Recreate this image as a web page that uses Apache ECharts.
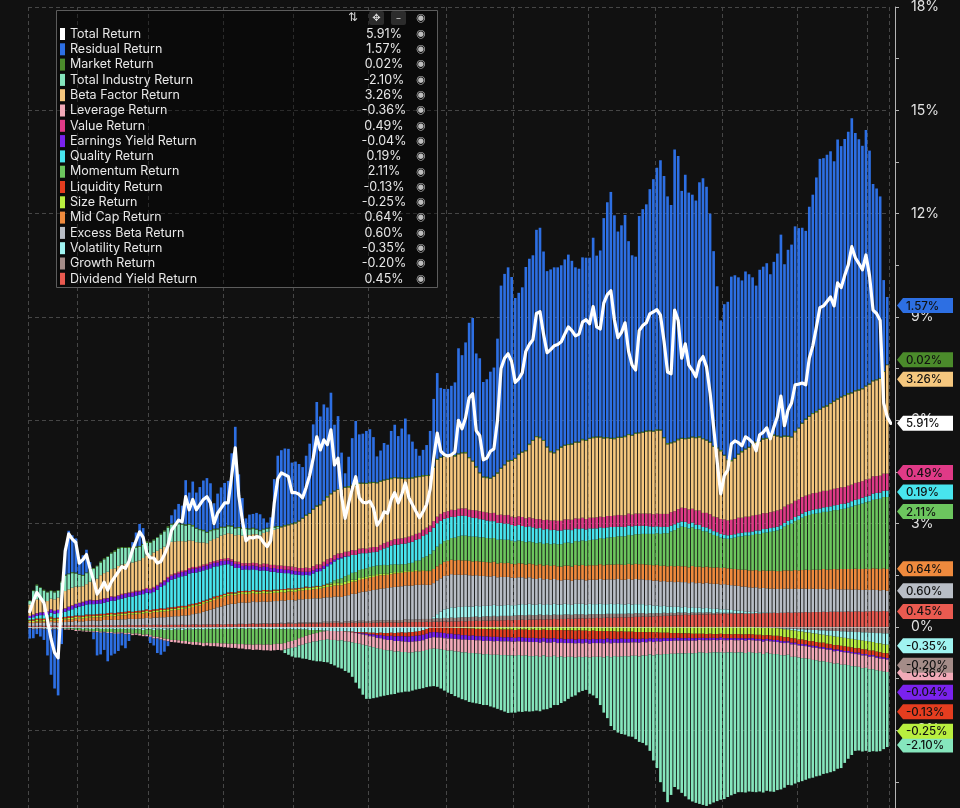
<!DOCTYPE html>
<html>
<head>
<meta charset="utf-8">
<title>Return Attribution</title>
<script src="https://cdn.jsdelivr.net/npm/echarts@6.0.0/dist/echarts.min.js"></script>
<style>
  html, body { margin: 0; padding: 0; background: #111111; }
  #wrap { width: 960px; height: 808px; overflow: hidden; position: relative; }
  #chart { width: 960px; height: 860px; }
</style>
</head>
<body>
<div id="wrap"><div id="chart"></div></div>
<script>
// trading days in each month shown (first and last month are partial)
var tradingDaysPerMonth = [14, 20, 21, 20, 21, 22, 19, 21, 19, 19, 22, 20, 6];

// daily cumulative returns, in %
var totalReturn = [
.44,.75,1.00,.85,.70,.20,-.35,-.75,-.90,.80,
2.20,2.70,2.55,2.45,1.85,1.95,2.10,1.70,1.35,.95,
1.10,1.30,1.07,1.30,1.45,1.60,1.75,1.70,1.90,2.24,
2.50,2.76,2.60,2.15,2.00,2.00,1.85,1.90,2.10,2.35,
2.80,2.95,3.10,3.05,3.78,3.40,3.70,3.40,3.55,3.70,
3.78,3.60,3.00,3.30,3.45,3.60,3.60,4.40,5.20,3.80,
3.10,2.50,2.60,2.58,2.62,2.60,2.45,2.33,2.50,3.60,
4.30,4.47,4.42,4.36,3.90,3.90,3.85,3.75,4.05,4.40,
4.90,5.52,5.14,5.43,5.29,5.72,4.70,4.90,3.80,3.15,
3.60,4.00,4.36,3.75,3.62,3.60,3.65,3.45,2.95,3.10,
3.34,3.30,3.69,3.90,3.60,3.85,4.18,3.75,3.55,3.35,
3.17,3.35,3.55,4.00,4.90,5.63,5.10,5.00,4.96,5.00,
5.08,6.00,5.75,6.07,6.65,6.77,5.70,5.55,4.85,4.90,
5.10,5.17,6.00,7.50,7.80,7.93,7.70,7.10,7.20,7.38,
8.00,8.20,8.34,9.10,9.15,8.50,7.96,8.05,8.16,8.20,
8.28,8.50,8.71,8.60,8.45,8.50,8.85,8.92,8.80,9.30,
8.71,8.65,9.40,9.65,9.76,8.92,8.40,8.55,8.83,8.00,
7.60,7.46,8.60,8.75,8.83,9.09,9.15,9.21,9.05,8.30,
7.40,7.35,9.20,8.90,7.80,8.22,7.60,7.45,7.26,7.70,
7.85,7.55,6.80,5.80,4.80,3.86,4.39,4.55,5.31,5.40,
5.35,5.26,5.52,5.45,5.35,5.11,5.58,5.65,5.78,5.46,
5.80,6.10,6.70,5.84,6.30,6.50,7.03,7.05,7.08,7.03,
7.80,8.16,8.70,9.27,9.32,9.45,9.58,9.32,9.99,9.85,
10.20,10.51,11.04,10.72,10.55,10.37,10.80,10.20,9.20,9.10,
8.90,6.50,6.10,5.91];

var residualReturn = [
-.30,-.26,-.15,-.23,-.31,-.76,-1.31,-1.72,-1.91,-.45,
.76,1.24,1.07,.99,.44,.57,.66,.20,-.20,-.68,
-.63,-.51,-.82,-.65,-.58,-.50,-.35,-.40,-.20,.14,
.40,.64,.46,-.01,-.18,-.20,-.42,-.44,-.32,-.14,
.24,.39,.56,.52,1.28,.91,1.26,1.02,1.22,1.43,
1.56,1.36,.74,1.01,1.14,1.27,1.29,2.10,2.92,1.53,
.85,.28,.40,.40,.46,.46,.30,.15,.29,1.37,
2.04,2.21,2.22,2.19,1.76,1.76,1.64,1.47,1.71,2.01,
2.45,3.00,2.55,2.78,2.57,2.92,1.91,2.12,1.04,.39,
.85,1.35,1.86,1.40,1.42,1.51,1.53,1.30,.75,.87,
1.06,.99,1.36,1.52,1.20,1.42,1.73,1.26,1.03,.80,
.59,.73,.87,1.27,1.96,2.49,2.00,1.93,1.93,1.99,
2.11,3.05,2.82,3.18,3.90,4.14,3.27,3.31,2.74,2.83,
3.08,3.14,3.88,5.29,5.53,5.60,5.31,4.64,4.67,4.77,
5.32,5.37,5.36,5.99,6.07,5.47,5.09,5.27,5.37,5.28,
5.26,5.38,5.50,5.30,5.06,5.02,5.27,5.29,5.23,5.78,
5.25,5.40,6.36,6.82,7.14,6.46,5.96,6.14,6.41,5.60,
5.21,5.11,6.28,6.46,6.57,7.00,7.30,7.59,7.82,7.58,
7.16,6.89,8.47,8.21,7.17,7.65,7.11,7.02,6.87,7.37,
7.55,7.34,6.62,5.65,4.68,3.76,4.37,4.57,5.32,5.30,
5.12,4.95,5.14,5.01,4.83,4.53,4.96,4.98,5.07,4.70,
5.01,5.28,5.86,4.97,5.40,5.57,5.94,5.79,5.66,5.45,
6.07,6.34,6.78,7.26,7.21,7.27,7.31,6.95,7.51,7.27,
7.44,7.59,7.96,7.47,7.26,7.04,7.42,6.76,5.70,5.54,
5.27,2.64,1.96,1.57];

var marketReturn = [
.02,.02,.03,.02,.03,.02,.02,.03,.02,.03,
.03,.02,.03,.03,.02,.03,.02,.03,.03,.02,
.03,.03,.02,.03,.04,.03,.03,.02,.03,.03,
.04,.03,.03,.04,.03,.03,.02,.03,.03,.04,
.03,.04,.03,.03,.04,.03,.04,.03,.03,.04,
.03,.03,.04,.03,.04,.03,.03,.04,.03,.03,
.04,.03,.03,.04,.03,.03,.02,.03,.03,.04,
.03,.03,.04,.03,.03,.04,.03,.03,.04,.03,
.03,.04,.03,.03,.04,.03,.03,.02,.03,.03,
.04,.03,.03,.04,.03,.03,.04,.03,.03,.04,
.03,.03,.04,.03,.03,.04,.03,.03,.04,.03,
.03,.04,.03,.03,.04,.03,.03,.04,.03,.03,
.04,.03,.03,.04,.03,.03,.04,.03,.03,.04,
.03,.03,.04,.03,.03,.04,.03,.03,.04,.03,
.03,.04,.03,.03,.04,.03,.03,.04,.03,.03,
.04,.03,.03,.04,.03,.03,.04,.03,.03,.04,
.03,.03,.04,.03,.03,.04,.03,.03,.04,.03,
.03,.04,.03,.03,.04,.03,.03,.04,.03,.03,
.04,.03,.03,.04,.03,.03,.04,.03,.03,.04,
.03,.03,.04,.03,.03,.04,.03,.03,.04,.03,
.03,.04,.03,.03,.04,.03,.03,.04,.03,.03,
.04,.03,.03,.04,.03,.03,.04,.03,.03,.04,
.03,.03,.04,.03,.03,.04,.03,.03,.04,.03,
.03,.04,.03,.03,.04,.03,.03,.04,.03,.03,
.03,.03,.02,.02];

var totalIndustryReturn = [
.10,.30,.40,.35,.30,.25,.22,.20,.20,.35,
.45,.44,.42,.38,.34,.30,.32,.34,.35,.36,
.37,.40,.43,.45,.48,.50,.48,.46,.44,.42,
.40,.39,.38,.37,.36,.35,.38,.41,.44,.47,
.50,.50,.49,.48,.46,.45,.42,.39,.36,.33,
.30,.28,.26,.24,.22,.20,.20,.20,.20,.20,
.20,.18,.16,.15,.13,.12,.10,.09,.08,.06,
.05,.00,-.10,-.18,-.25,-.30,-.35,-.40,-.45,-.50,
-.55,-.58,-.61,-.64,-.67,-.70,-.74,-.78,-.82,-.86,
-.90,-1.00,-1.15,-1.30,-1.45,-1.55,-1.52,-1.48,-1.43,-1.38,
-1.33,-1.30,-1.27,-1.23,-1.20,-1.17,-1.15,-1.13,-1.11,-1.10,
-1.08,-1.08,-1.08,-1.09,-1.09,-1.10,-1.14,-1.18,-1.22,-1.26,
-1.30,-1.33,-1.36,-1.39,-1.42,-1.44,-1.45,-1.46,-1.47,-1.48,
-1.50,-1.53,-1.57,-1.60,-1.64,-1.67,-1.66,-1.65,-1.64,-1.63,
-1.62,-1.61,-1.60,-1.59,-1.58,-1.57,-1.52,-1.48,-1.43,-1.39,
-1.35,-1.28,-1.22,-1.16,-1.10,-1.03,-.98,-.96,-1.05,-1.12,
-1.20,-1.40,-1.60,-1.80,-2.00,-2.15,-2.20,-2.25,-2.28,-2.32,
-2.35,-2.42,-2.48,-2.54,-2.60,-2.80,-3.05,-3.30,-3.70,-4.00,
-4.30,-4.10,-3.87,-3.95,-4.05,-4.15,-4.25,-4.30,-4.35,-4.40,
-4.42,-4.44,-4.40,-4.36,-4.32,-4.28,-4.25,-4.20,-4.15,-4.10,
-4.06,-4.06,-4.05,-4.05,-4.04,-4.04,-4.03,-4.02,-4.01,-4.00,
-4.00,-3.95,-3.90,-3.84,-3.78,-3.73,-3.68,-3.62,-3.57,-3.52,
-3.47,-3.42,-3.37,-3.32,-3.27,-3.23,-3.18,-3.12,-3.06,-3.00,
-2.85,-2.72,-2.58,-2.45,-2.43,-2.42,-2.41,-2.40,-2.38,-2.36,
-2.33,-2.25,-2.18,-2.10];

var betaFactorReturn = [
.33,.38,.40,.36,.32,.30,.31,.33,.35,.42,
.50,.50,.51,.50,.47,.45,.48,.52,.55,.62,
.70,.73,.76,.79,.82,.85,.85,.85,.85,.85,
.85,.88,.91,.94,.97,1.00,.99,.98,.97,.96,
.95,.92,.89,.86,.83,.80,.76,.72,.68,.64,
.60,.62,.64,.66,.68,.70,.72,.74,.76,.78,
.80,.81,.82,.83,.84,.85,.89,.93,.98,1.02,
1.07,1.11,1.15,1.19,1.23,1.27,1.35,1.43,1.50,1.57,
1.64,1.68,1.72,1.76,1.80,1.85,1.85,1.85,1.85,1.86,
1.86,1.87,1.87,1.88,1.88,1.88,1.87,1.86,1.85,1.83,
1.82,1.80,1.78,1.77,1.75,1.73,1.70,1.68,1.66,1.64,
1.62,1.55,1.50,1.45,1.55,1.65,1.63,1.61,1.59,1.58,
1.56,1.58,1.60,1.60,1.50,1.41,1.25,1.10,1.00,1.00,
1.00,1.05,1.20,1.33,1.45,1.55,1.62,1.70,1.78,1.87,
1.95,2.10,2.25,2.38,2.35,2.30,2.10,1.98,1.95,2.05,
2.12,2.14,2.16,2.18,2.20,2.21,2.25,2.27,2.29,2.31,
2.32,2.30,2.28,2.26,2.24,2.22,2.24,2.25,2.27,2.28,
2.29,2.31,2.33,2.35,2.37,2.39,2.40,2.41,2.42,2.20,
2.02,2.00,2.00,2.00,2.00,2.00,2.05,2.07,2.10,2.12,
2.14,2.10,2.07,2.03,2.00,1.97,1.85,1.75,1.70,1.75,
1.83,1.90,1.95,2.00,2.05,2.10,2.12,2.14,2.16,2.18,
2.20,2.15,2.09,2.03,1.97,1.92,1.99,2.06,2.13,2.20,
2.26,2.30,2.34,2.38,2.42,2.45,2.49,2.53,2.57,2.61,
2.64,2.65,2.65,2.66,2.66,2.67,2.70,2.73,2.76,2.78,
2.81,2.95,3.15,3.26];

var leverageReturn = [
-.01,-.02,-.01,-.02,-.02,-.01,-.02,-.02,-.02,-.01,
-.02,-.02,-.02,-.03,-.02,-.02,-.03,-.02,-.03,-.03,
-.03,-.02,-.03,-.03,-.03,-.04,-.03,-.04,-.04,-.04,
-.04,-.05,-.04,-.05,-.05,-.06,-.05,-.06,-.06,-.07,
-.06,-.07,-.07,-.07,-.08,-.07,-.08,-.08,-.08,-.09,
-.08,-.09,-.09,-.10,-.10,-.11,-.11,-.12,-.12,-.13,
-.13,-.14,-.14,-.15,-.15,-.16,-.16,-.17,-.17,-.18,
-.18,-.19,-.19,-.20,-.20,-.21,-.21,-.22,-.22,-.23,
-.23,-.24,-.24,-.25,-.25,-.26,-.26,-.27,-.27,-.28,
-.28,-.29,-.29,-.29,-.30,-.30,-.30,-.31,-.30,-.31,
-.31,-.30,-.31,-.31,-.30,-.31,-.30,-.31,-.31,-.30,
-.31,-.31,-.32,-.32,-.33,-.33,-.34,-.34,-.35,-.35,
-.36,-.36,-.37,-.37,-.38,-.38,-.38,-.39,-.39,-.39,
-.40,-.39,-.40,-.40,-.40,-.41,-.40,-.41,-.40,-.41,
-.40,-.41,-.41,-.40,-.41,-.40,-.41,-.41,-.40,-.41,
-.40,-.41,-.40,-.40,-.41,-.40,-.40,-.41,-.40,-.40,
-.40,-.40,-.41,-.40,-.40,-.39,-.40,-.40,-.39,-.40,
-.39,-.39,-.40,-.39,-.39,-.38,-.39,-.38,-.38,-.38,
-.38,-.37,-.38,-.37,-.37,-.37,-.36,-.37,-.36,-.36,
-.36,-.37,-.36,-.36,-.35,-.36,-.36,-.35,-.36,-.36,
-.35,-.36,-.36,-.35,-.36,-.36,-.35,-.36,-.35,-.36,
-.36,-.35,-.36,-.36,-.35,-.36,-.36,-.35,-.36,-.36,
-.35,-.36,-.36,-.37,-.36,-.36,-.37,-.36,-.36,-.37,
-.36,-.36,-.37,-.36,-.36,-.37,-.36,-.36,-.37,-.36,
-.36,-.37,-.36,-.36];

var valueReturn = [
.00,.01,.01,.00,.01,.01,.01,.00,.01,.01,
.01,.01,.02,.01,.01,.02,.01,.02,.02,.01,
.02,.02,.01,.02,.02,.02,.03,.02,.02,.03,
.03,.02,.03,.03,.03,.04,.03,.03,.04,.04,
.04,.04,.05,.04,.04,.05,.05,.04,.05,.05,
.05,.06,.05,.06,.06,.06,.07,.06,.07,.07,
.08,.07,.08,.08,.09,.08,.09,.09,.10,.09,
.10,.10,.11,.10,.11,.11,.10,.11,.12,.11,
.12,.12,.11,.12,.13,.12,.13,.13,.12,.13,
.13,.14,.13,.14,.14,.13,.14,.15,.14,.15,
.15,.16,.15,.16,.17,.16,.17,.17,.18,.17,
.18,.18,.19,.18,.19,.19,.20,.19,.20,.20,
.20,.21,.21,.22,.21,.22,.22,.23,.22,.23,
.23,.24,.23,.24,.24,.25,.24,.25,.25,.26,
.25,.26,.26,.27,.26,.27,.27,.28,.27,.28,
.28,.29,.29,.30,.29,.30,.31,.30,.31,.31,
.32,.31,.32,.33,.32,.33,.34,.33,.34,.35,
.34,.35,.36,.35,.36,.37,.36,.37,.38,.37,
.38,.39,.38,.39,.40,.40,.41,.40,.41,.42,
.41,.42,.43,.42,.43,.43,.44,.43,.44,.44,
.45,.44,.45,.45,.46,.45,.46,.46,.45,.46,
.46,.47,.46,.47,.47,.46,.47,.47,.48,.47,
.47,.48,.47,.48,.48,.47,.48,.48,.49,.48,
.48,.49,.48,.49,.49,.48,.49,.49,.50,.49,
.49,.50,.49,.49];

var earningsYieldReturn = [
.06,.07,.07,.08,.08,.08,.09,.09,.09,.09,
.09,.10,.10,.10,.10,.10,.10,.11,.10,.10,
.10,.11,.10,.11,.10,.10,.11,.11,.10,.11,
.11,.10,.11,.11,.10,.11,.11,.10,.11,.11,
.11,.12,.11,.12,.12,.11,.12,.12,.11,.12,
.11,.12,.11,.11,.12,.11,.11,.12,.11,.11,
.11,.11,.12,.11,.11,.10,.11,.11,.10,.11,
.10,.11,.10,.10,.11,.10,.10,.10,.09,.10,
.09,.09,.08,.08,.07,.06,.05,.04,.03,.02,
.01,.00,-.01,-.02,-.03,-.04,-.05,-.06,-.08,-.09,
-.10,-.11,-.12,-.13,-.14,-.15,-.15,-.16,-.16,-.16,
-.16,-.16,-.15,-.16,-.15,-.15,-.14,-.15,-.14,-.14,
-.13,-.14,-.13,-.13,-.12,-.13,-.12,-.12,-.13,-.12,
-.12,-.13,-.12,-.12,-.11,-.12,-.12,-.11,-.12,-.12,
-.11,-.12,-.12,-.11,-.12,-.11,-.12,-.12,-.11,-.12,
-.12,-.11,-.12,-.12,-.11,-.12,-.12,-.11,-.12,-.12,
-.11,-.12,-.12,-.11,-.12,-.11,-.11,-.12,-.11,-.11,
-.11,-.10,-.11,-.10,-.10,-.09,-.10,-.09,-.09,-.08,
-.08,-.08,-.07,-.08,-.07,-.07,-.08,-.07,-.07,-.06,
-.07,-.06,-.07,-.06,-.06,-.07,-.06,-.06,-.05,-.06,
-.06,-.05,-.06,-.05,-.06,-.05,-.05,-.06,-.05,-.05,
-.05,-.06,-.05,-.05,-.04,-.05,-.05,-.04,-.05,-.05,
-.04,-.05,-.05,-.04,-.05,-.04,-.05,-.05,-.04,-.05,
-.04,-.05,-.04,-.04,-.05,-.04,-.04,-.05,-.04,-.04,
-.05,-.04,-.04,-.04];

var qualityReturn = [
.05,.06,.07,.08,.09,.10,.11,.12,.13,.14,
.15,.17,.20,.23,.26,.28,.29,.30,.30,.30,
.30,.32,.33,.35,.36,.38,.39,.41,.42,.44,
.45,.46,.47,.48,.49,.50,.56,.62,.68,.74,
.80,.82,.84,.86,.88,.90,.90,.89,.89,.88,
.88,.87,.87,.86,.86,.85,.82,.77,.72,.67,
.62,.62,.61,.60,.59,.58,.57,.56,.54,.52,
.50,.48,.46,.44,.42,.40,.38,.36,.34,.35,
.38,.41,.44,.47,.50,.53,.55,.57,.58,.56,
.54,.52,.50,.48,.46,.44,.42,.41,.40,.44,
.48,.52,.55,.57,.58,.59,.60,.60,.61,.61,
.62,.63,.64,.65,.66,.68,.67,.65,.64,.62,
.60,.59,.58,.57,.56,.55,.54,.53,.52,.51,
.50,.49,.49,.48,.47,.47,.46,.45,.45,.44,
.44,.44,.43,.43,.42,.42,.41,.41,.40,.40,
.40,.39,.38,.38,.37,.36,.35,.34,.34,.33,
.32,.31,.31,.30,.30,.29,.28,.28,.27,.27,
.26,.25,.24,.24,.23,.22,.21,.20,.20,.19,
.18,.17,.17,.16,.15,.15,.14,.14,.13,.13,
.12,.12,.12,.11,.11,.11,.11,.10,.10,.10,
.10,.10,.10,.10,.10,.10,.11,.11,.11,.11,
.11,.11,.11,.11,.12,.12,.12,.12,.12,.12,
.12,.12,.13,.13,.13,.14,.14,.14,.15,.15,
.15,.15,.16,.16,.16,.17,.17,.17,.18,.18,
.18,.18,.19,.19];

var momentumReturn = [
.02,.01,.02,.03,.02,.01,.02,.01,.00,.01,
-.01,-.02,-.03,-.04,-.05,-.05,-.06,-.06,-.07,-.07,
-.08,-.08,-.09,-.09,-.10,-.10,-.10,-.11,-.11,-.12,
-.12,-.13,-.14,-.15,-.17,-.19,-.21,-.23,-.25,-.27,
-.29,-.30,-.31,-.32,-.33,-.35,-.36,-.37,-.38,-.39,
-.40,-.40,-.41,-.41,-.42,-.42,-.43,-.43,-.44,-.44,
-.45,-.45,-.46,-.46,-.45,-.46,-.46,-.45,-.45,-.44,
-.43,-.42,-.40,-.37,-.34,-.30,-.26,-.22,-.18,-.14,
-.11,-.08,-.05,-.02,.02,.05,.08,.11,.14,.16,
.18,.20,.22,.23,.24,.25,.25,.26,.25,.25,
.25,.24,.24,.23,.22,.21,.20,.22,.24,.27,
.30,.36,.42,.48,.54,.57,.59,.60,.61,.63,
.66,.69,.72,.72,.71,.72,.71,.70,.71,.70,
.70,.69,.69,.68,.68,.67,.67,.66,.66,.65,
.65,.64,.64,.64,.63,.63,.63,.63,.63,.64,
.65,.66,.67,.68,.69,.70,.71,.72,.73,.74,
.75,.76,.77,.78,.79,.80,.81,.82,.83,.84,
.85,.86,.87,.88,.89,.90,.91,.92,.93,.94,
.96,1.00,1.05,1.10,1.15,1.14,1.13,1.12,1.10,1.08,
1.05,1.02,.99,.95,.91,.88,.85,.86,.88,.91,
.95,.97,.99,1.01,1.03,1.05,1.07,1.09,1.11,1.13,
1.15,1.18,1.22,1.27,1.32,1.37,1.42,1.47,1.52,1.56,
1.60,1.62,1.63,1.65,1.66,1.68,1.69,1.71,1.72,1.74,
1.75,1.78,1.81,1.84,1.87,1.90,1.93,1.96,1.99,2.02,
2.04,2.07,2.09,2.11];

var liquidityReturn = [
.02,.03,.03,.04,.03,.04,.04,.03,.04,.04,
.04,.05,.04,.04,.05,.04,.05,.05,.04,.04,
.05,.04,.05,.04,.04,.05,.04,.05,.05,.04,
.04,.05,.04,.05,.05,.04,.04,.05,.04,.05,
.04,.05,.05,.04,.04,.05,.04,.04,.05,.04,
.04,.04,.05,.04,.04,.03,.04,.04,.03,.04,
.03,.04,.03,.03,.04,.03,.03,.04,.03,.03,
.03,.02,.03,.03,.02,.03,.02,.02,.03,.02,
.02,.02,.01,.02,.01,.01,.00,.01,.00,-.01,
-.01,-.02,-.02,-.03,-.03,-.04,-.05,-.05,-.06,-.07,
-.08,-.09,-.09,-.10,-.10,-.11,-.11,-.12,-.12,-.12,
-.13,-.13,-.14,-.14,-.15,-.16,-.16,-.17,-.18,-.18,
-.19,-.19,-.20,-.20,-.21,-.20,-.21,-.21,-.22,-.21,
-.22,-.22,-.21,-.22,-.23,-.22,-.23,-.23,-.22,-.23,
-.24,-.23,-.24,-.24,-.25,-.24,-.25,-.25,-.24,-.25,
-.25,-.26,-.25,-.25,-.26,-.25,-.25,-.24,-.25,-.24,
-.24,-.23,-.23,-.22,-.23,-.22,-.22,-.21,-.21,-.21,
-.20,-.20,-.20,-.19,-.19,-.18,-.18,-.17,-.17,-.16,
-.16,-.15,-.15,-.14,-.14,-.14,-.13,-.13,-.13,-.12,
-.12,-.12,-.12,-.11,-.12,-.11,-.12,-.12,-.11,-.12,
-.12,-.11,-.12,-.12,-.11,-.12,-.12,-.12,-.11,-.12,
-.12,-.12,-.13,-.12,-.12,-.13,-.12,-.13,-.13,-.12,
-.13,-.13,-.12,-.13,-.13,-.13,-.12,-.13,-.13,-.13,
-.13,-.12,-.13,-.13,-.13,-.14,-.13,-.13,-.13,-.14,
-.13,-.13,-.14,-.13];

var sizeReturn = [
.03,.04,.04,.03,.04,.04,.05,.04,.04,.03,
.04,.04,.05,.04,.04,.05,.05,.04,.04,.05,
.05,.04,.04,.05,.05,.04,.05,.05,.04,.04,
.05,.04,.05,.05,.04,.04,.05,.05,.04,.05,
.05,.04,.05,.05,.04,.05,.05,.04,.05,.05,
.04,.05,.05,.04,.05,.05,.05,.04,.05,.05,
.05,.06,.05,.06,.06,.05,.06,.06,.05,.06,
.06,.06,.07,.06,.06,.07,.06,.06,.07,.06,
.06,.07,.06,.06,.07,.06,.07,.06,.06,.07,
.06,.06,.05,.06,.05,.05,.06,.05,.05,.04,
.05,.04,.04,.04,.03,.04,.03,.03,.02,.03,
.02,.02,.01,.01,.00,.00,-.01,-.01,-.02,-.02,
-.03,-.03,-.04,-.04,-.05,-.05,-.06,-.06,-.06,-.07,
-.07,-.07,-.08,-.08,-.08,-.08,-.08,-.09,-.08,-.08,
-.08,-.09,-.08,-.09,-.09,-.08,-.09,-.09,-.09,-.10,
-.09,-.10,-.10,-.10,-.11,-.10,-.11,-.11,-.12,-.11,
-.12,-.12,-.13,-.12,-.13,-.13,-.14,-.13,-.14,-.14,
-.14,-.15,-.15,-.15,-.16,-.15,-.16,-.16,-.17,-.17,
-.17,-.18,-.18,-.18,-.19,-.19,-.19,-.20,-.20,-.20,
-.20,-.21,-.20,-.21,-.21,-.20,-.21,-.21,-.22,-.21,
-.21,-.22,-.22,-.21,-.22,-.22,-.22,-.23,-.22,-.22,
-.23,-.22,-.23,-.23,-.22,-.23,-.23,-.24,-.23,-.23,
-.24,-.23,-.24,-.24,-.23,-.24,-.24,-.25,-.24,-.24,
-.25,-.24,-.25,-.25,-.24,-.25,-.25,-.26,-.25,-.25,
-.26,-.25,-.25,-.25];

var midCapReturn = [
.03,.03,.04,.04,.04,.05,.05,.05,.06,.06,
.07,.07,.07,.08,.08,.08,.09,.09,.09,.10,
.10,.10,.11,.11,.11,.12,.12,.12,.13,.13,
.14,.14,.14,.15,.15,.16,.16,.16,.17,.17,
.18,.18,.19,.19,.20,.21,.21,.22,.22,.23,
.24,.24,.25,.25,.25,.26,.26,.26,.25,.25,
.25,.25,.25,.24,.24,.24,.24,.24,.24,.24,
.24,.24,.24,.25,.25,.25,.25,.26,.26,.26,
.26,.27,.28,.29,.30,.31,.32,.33,.34,.34,
.35,.35,.36,.36,.37,.37,.38,.38,.39,.39,
.38,.38,.38,.39,.39,.39,.39,.40,.40,.40,
.39,.40,.40,.40,.41,.41,.41,.41,.42,.42,
.42,.42,.42,.41,.42,.41,.41,.42,.41,.41,
.41,.41,.40,.41,.40,.41,.40,.40,.41,.40,
.40,.40,.41,.40,.40,.40,.41,.40,.40,.40,
.40,.41,.41,.41,.42,.41,.42,.42,.42,.42,
.42,.43,.42,.43,.43,.43,.43,.44,.43,.44,
.44,.44,.44,.44,.45,.44,.45,.45,.45,.45,
.45,.45,.46,.46,.46,.46,.46,.47,.47,.47,
.47,.47,.47,.47,.48,.48,.48,.48,.48,.48,
.48,.49,.49,.49,.50,.50,.50,.51,.51,.52,
.52,.52,.52,.53,.53,.53,.54,.54,.54,.55,
.55,.55,.56,.56,.57,.57,.57,.58,.58,.59,
.59,.59,.60,.60,.60,.61,.61,.61,.62,.62,
.62,.63,.63,.64];

var excessBetaReturn = [
.08,.08,.09,.08,.09,.09,.10,.09,.10,.10,
.10,.11,.11,.12,.12,.12,.13,.13,.14,.14,
.14,.15,.15,.16,.16,.16,.17,.17,.18,.18,
.18,.19,.19,.20,.20,.21,.21,.22,.23,.23,
.24,.25,.25,.26,.27,.28,.30,.32,.34,.37,
.40,.43,.46,.49,.52,.55,.57,.59,.60,.61,
.62,.62,.62,.63,.63,.63,.63,.63,.64,.64,
.64,.65,.65,.65,.66,.66,.67,.67,.68,.68,
.69,.69,.70,.70,.71,.71,.72,.72,.73,.74,
.76,.78,.80,.82,.84,.86,.88,.89,.90,.92,
.93,.94,.95,.96,.97,.98,.98,.99,.99,1.00,
1.00,1.00,.99,.99,.98,.98,.97,.97,.96,.96,
.95,.94,.93,.92,.91,.90,.89,.88,.87,.86,
.85,.84,.83,.83,.82,.81,.80,.79,.79,.78,
.77,.77,.76,.75,.75,.74,.73,.73,.72,.71,
.70,.70,.71,.70,.71,.70,.71,.71,.70,.71,
.71,.72,.71,.72,.71,.72,.72,.71,.72,.72,
.72,.73,.72,.72,.73,.72,.72,.73,.72,.72,
.72,.73,.72,.72,.73,.72,.72,.73,.72,.72,
.72,.73,.72,.73,.72,.72,.73,.72,.72,.72,
.72,.71,.72,.71,.71,.71,.70,.71,.70,.70,
.70,.70,.69,.70,.69,.69,.69,.68,.69,.68,
.68,.68,.67,.67,.67,.66,.66,.66,.65,.65,
.65,.64,.64,.64,.63,.63,.63,.62,.62,.62,
.61,.61,.60,.60];

var volatilityReturn = [
-.02,-.03,-.03,-.02,-.03,-.04,-.03,-.03,-.04,-.03,
-.03,-.02,-.03,-.03,-.02,-.03,-.03,-.04,-.03,-.03,
-.04,-.03,-.03,-.04,-.04,-.03,-.04,-.04,-.03,-.04,
-.04,-.04,-.05,-.04,-.04,-.05,-.04,-.05,-.05,-.04,
-.05,-.05,-.04,-.05,-.05,-.04,-.05,-.04,-.05,-.05,
-.04,-.05,-.05,-.04,-.05,-.05,-.06,-.05,-.05,-.06,
-.05,-.06,-.05,-.06,-.06,-.05,-.06,-.06,-.07,-.06,
-.06,-.07,-.07,-.06,-.07,-.08,-.07,-.08,-.08,-.09,
-.09,-.10,-.10,-.11,-.11,-.12,-.12,-.13,-.12,-.13,
-.14,-.14,-.15,-.15,-.16,-.16,-.17,-.17,-.18,-.17,
-.18,-.18,-.17,-.18,-.17,-.16,-.17,-.16,-.15,-.14,
-.12,-.10,-.06,-.02,.05,.12,.20,.25,.28,.30,
.30,.31,.30,.32,.31,.30,.31,.32,.31,.30,
.31,.32,.31,.30,.31,.32,.31,.30,.31,.32,
.31,.32,.31,.30,.31,.30,.31,.30,.31,.30,
.30,.31,.30,.29,.30,.31,.30,.29,.30,.29,
.29,.30,.29,.28,.29,.28,.29,.28,.27,.28,
.27,.26,.27,.26,.25,.24,.23,.22,.21,.20,
.19,.18,.18,.17,.16,.16,.15,.15,.14,.14,
.13,.13,.12,.12,.11,.10,.10,.09,.08,.08,
.07,.06,.06,.05,.04,.04,.03,.02,.02,.01,
.00,.00,-.01,-.02,-.03,-.04,-.05,-.06,-.07,-.08,
-.09,-.10,-.11,-.12,-.13,-.14,-.15,-.16,-.17,-.18,
-.19,-.20,-.21,-.22,-.23,-.24,-.25,-.26,-.27,-.29,
-.30,-.32,-.33,-.35];

var growthReturn = [
-.01,-.02,-.02,-.01,-.02,-.02,-.03,-.02,-.02,-.01,
-.02,-.02,-.01,-.02,-.02,-.03,-.02,-.02,-.03,-.02,
-.02,-.03,-.03,-.02,-.03,-.03,-.02,-.03,-.03,-.04,
-.03,-.03,-.04,-.03,-.03,-.04,-.04,-.03,-.04,-.04,
-.04,-.03,-.04,-.04,-.03,-.04,-.03,-.03,-.02,-.03,
-.02,-.02,-.01,-.02,-.01,-.01,.00,-.01,.00,.01,
.01,.00,.01,.02,.01,.02,.02,.01,.02,.02,
.02,.03,.02,.03,.03,.02,.03,.03,.04,.03,
.04,.04,.03,.04,.05,.04,.05,.05,.04,.05,
.05,.06,.05,.06,.06,.05,.06,.06,.07,.06,
.07,.06,.07,.07,.08,.07,.08,.08,.07,.08,
.08,.09,.08,.09,.09,.10,.09,.10,.10,.11,
.10,.11,.11,.12,.11,.12,.12,.11,.12,.13,
.12,.13,.12,.13,.13,.12,.13,.13,.14,.13,
.13,.14,.13,.13,.14,.13,.13,.12,.13,.13,
.12,.13,.12,.12,.13,.12,.12,.11,.12,.12,
.11,.12,.11,.11,.12,.11,.11,.10,.11,.11,
.10,.11,.10,.10,.09,.10,.09,.09,.08,.09,
.08,.08,.07,.08,.07,.07,.06,.07,.06,.06,
.05,.06,.05,.04,.05,.04,.03,.04,.03,.02,
.02,.01,.01,.00,.00,-.01,-.01,-.02,-.02,-.03,
-.03,-.04,-.04,-.05,-.05,-.06,-.06,-.07,-.07,-.08,
-.08,-.09,-.09,-.10,-.10,-.11,-.11,-.12,-.12,-.13,
-.13,-.14,-.14,-.15,-.15,-.16,-.16,-.17,-.17,-.18,
-.18,-.19,-.19,-.20];

var dividendYieldReturn = [
.03,.03,.03,.04,.03,.03,.04,.04,.03,.04,
.04,.04,.04,.05,.04,.04,.04,.05,.05,.04,
.04,.05,.05,.05,.04,.05,.05,.05,.06,.05,
.05,.05,.06,.06,.05,.06,.06,.06,.05,.06,
.06,.06,.06,.07,.06,.06,.07,.07,.06,.07,
.07,.07,.07,.08,.07,.07,.08,.08,.07,.08,
.08,.08,.08,.09,.08,.08,.09,.09,.08,.09,
.09,.09,.09,.10,.09,.09,.10,.10,.09,.10,
.10,.10,.10,.11,.10,.11,.11,.11,.10,.11,
.11,.12,.11,.12,.12,.12,.11,.12,.12,.13,
.12,.13,.13,.13,.12,.13,.14,.13,.14,.14,
.14,.14,.15,.14,.15,.15,.15,.16,.15,.16,
.16,.16,.17,.16,.17,.17,.18,.17,.18,.18,
.18,.19,.18,.19,.19,.20,.19,.20,.20,.21,
.20,.21,.21,.21,.22,.21,.22,.22,.23,.22,
.23,.23,.24,.23,.24,.24,.25,.24,.25,.25,
.26,.25,.26,.27,.26,.27,.27,.28,.27,.28,
.28,.29,.29,.30,.29,.30,.30,.31,.31,.32,
.32,.33,.33,.34,.34,.35,.34,.35,.35,.36,
.36,.36,.37,.36,.37,.37,.38,.37,.38,.38,
.38,.39,.38,.39,.39,.40,.39,.40,.40,.40,
.41,.40,.41,.41,.42,.41,.42,.42,.42,.43,
.42,.43,.43,.43,.44,.43,.44,.44,.44,.44,
.44,.45,.44,.45,.45,.44,.45,.45,.46,.45,
.45,.46,.45,.45];

// legend order
var factors = [
  { name: 'Total Return',          color: '#ffffff', data: totalReturn },
  { name: 'Residual Return',       color: '#2d6fe3', data: residualReturn },
  { name: 'Market Return',         color: '#4b8b2b', data: marketReturn },
  { name: 'Total Industry Return', color: '#86e6bd', data: totalIndustryReturn },
  { name: 'Beta Factor Return',    color: '#f5c77e', data: betaFactorReturn },
  { name: 'Leverage Return',       color: '#f2aab8', data: leverageReturn },
  { name: 'Value Return',          color: '#e03a87', data: valueReturn },
  { name: 'Earnings Yield Return', color: '#7a22ee', data: earningsYieldReturn },
  { name: 'Quality Return',        color: '#48e5ee', data: qualityReturn },
  { name: 'Momentum Return',       color: '#6cc65e', data: momentumReturn },
  { name: 'Liquidity Return',      color: '#e53d1f', data: liquidityReturn },
  { name: 'Size Return',           color: '#b9ef3f', data: sizeReturn },
  { name: 'Mid Cap Return',        color: '#ef8a3d', data: midCapReturn },
  { name: 'Excess Beta Return',    color: '#b9bec6', data: excessBetaReturn },
  { name: 'Volatility Return',     color: '#a0f4f1', data: volatilityReturn },
  { name: 'Growth Return',         color: '#a48c88', data: growthReturn },
  { name: 'Dividend Yield Return', color: '#ea5a50', data: dividendYieldReturn }
];

//----- trading dates
function buildDates(year, month, counts) {
  var out = [];
  counts.forEach(function (n, k) {
    var y = year + Math.floor((month - 1 + k) / 12);
    var m = (month - 1 + k) % 12;
    var last = new Date(Date.UTC(y, m + 1, 0)).getUTCDate();
    var days = [];
    for (var d = 1; d <= last; d++) {
      var wd = new Date(Date.UTC(y, m, d)).getUTCDay();
      if (wd !== 0 && wd !== 6) days.push(d);
    }
    var pick = k === 0 ? days.slice(days.length - n) : days.slice(0, n);
    pick.forEach(function (d) {
      out.push(y + '-' + String(m + 1).padStart(2, '0') + '-' + String(d).padStart(2, '0'));
    });
  });
  return out;
}
var dates = buildDates(2024, 5, tradingDaysPerMonth);

function isMonthStart(i) {
  return i === 0 || dates[i].slice(0, 7) !== dates[i - 1].slice(0, 7);
}

function pct(v) { return v.toFixed(2) + '%'; }
function lastOf(arr) { return arr[arr.length - 1]; }

var lastValue = {};
factors.forEach(function (f) { lastValue[f.name] = lastOf(f.data); });

// bars stack from zero outwards in reverse legend order
var stackOrder = factors.slice(1).reverse();

var series = stackOrder.map(function (f) {
  return {
    name: f.name,
    type: 'bar',
    stack: 'attribution',
    data: f.data,
    barCategoryGap: '25%',
    itemStyle: { color: f.color },
    emphasis: { disabled: true }
  };
});
series.push({
  name: 'Total Return',
  type: 'line',
  data: totalReturn,
  symbol: 'none',
  z: 5,
  itemStyle: { color: '#ffffff' },
  lineStyle: { color: '#ffffff', width: 3.2, join: 'round', cap: 'round' },
  emphasis: { disabled: true },
  markLine: {
    silent: true,
    symbol: 'none',
    label: { show: false },
    lineStyle: { color: 'rgba(225,225,225,0.55)', type: 'solid', width: 1 },
    data: [{ yAxis: 0 }]
  }
});

var gridLine = { color: '#464646', type: [4, 3], width: 1 };

var dom = document.getElementById('chart');
var chart = echarts.init(dom);

var option = {
  backgroundColor: '#111111',
  animation: false,
  textStyle: { fontFamily: 'Inter' },
  grid: { left: 28, top: 7, width: 861, height: 826.5 },
  legend: {
    data: factors.map(function (f) { return f.name; }),
    orient: 'vertical',
    left: 60,
    top: 27.5,
    padding: 0,
    itemGap: 2.3,
    itemWidth: 5,
    itemHeight: 12,
    icon: 'rect',
    z: 20,
    formatter: function (name) {
      return '{n|' + name + '}{v|' + pct(lastValue[name]) + '}{e|\u25c9}';
    },
    textStyle: {
      color: '#e8e8e8',
      fontSize: 12.5,
      rich: {
        n: { width: 293, fontSize: 12.5, color: '#e8e8e8', fontFamily: 'Inter' },
        v: { width: 42, align: 'right', fontSize: 12.5, color: '#e8e8e8', fontFamily: 'Inter' },
        e: { width: 32, align: 'center', fontSize: 11, color: '#bdbdbd', fontFamily: 'DejaVu Sans' }
      }
    }
  },
  xAxis: {
    type: 'category',
    data: dates,
    boundaryGap: true,
    axisLine: { show: false },
    axisTick: { show: false },
    axisLabel: { show: false },
    splitLine: {
      show: true,
      interval: function (i) { return isMonthStart(i); },
      lineStyle: gridLine
    }
  },
  yAxis: {
    type: 'value',
    position: 'right',
    offset: 6,
    min: -6,
    max: 18,
    interval: 3,
    axisLine: { show: true, lineStyle: { color: '#b4b4b4' } },
    axisTick: { show: true, length: 4, lineStyle: { color: '#b4b4b4' } },
    minorTick: { show: true, splitNumber: 2, length: 4, lineStyle: { color: '#b4b4b4' } },
    axisLabel: { color: '#e2e2e2', fontSize: 14, margin: 16, formatter: '{value}%' },
    splitLine: { show: true, lineStyle: gridLine }
  },
  series: series
};

chart.setOption(option);

//----- legend frame, toolbar icons and right-hand value tags
function buildGraphics() {
  var els = [
    { type: 'rect', z: 10, silent: true,
      shape: { x: 56.5, y: 10.5, width: 381, height: 277 },
      style: { fill: 'rgba(0,0,0,0.38)', stroke: '#5c5c5c', lineWidth: 1 } },
    { type: 'text', z: 21, silent: true,
      style: { text: '\u21c5', x: 353, y: 18, fill: '#d8d8d8', font: '12px "DejaVu Sans"', align: 'center', verticalAlign: 'middle' } },
    { type: 'rect', z: 21, silent: true, shape: { x: 369, y: 11, width: 15, height: 14, r: 2 }, style: { fill: '#2c2c2c' } },
    { type: 'text', z: 22, silent: true,
      style: { text: '\u2725', x: 376.5, y: 18, fill: '#d8d8d8', font: '10px "DejaVu Sans"', align: 'center', verticalAlign: 'middle' } },
    { type: 'rect', z: 21, silent: true, shape: { x: 391, y: 11, width: 15, height: 14, r: 2 }, style: { fill: '#2c2c2c' } },
    { type: 'text', z: 22, silent: true,
      style: { text: '\u2013', x: 398.5, y: 18, fill: '#d8d8d8', font: '10px "DejaVu Sans"', align: 'center', verticalAlign: 'middle' } },
    { type: 'text', z: 21, silent: true,
      style: { text: '\u25c9', x: 421, y: 18, fill: '#bdbdbd', font: '11px "DejaVu Sans"', align: 'center', verticalAlign: 'middle' } }
  ];

  // where each series ends on the stack
  var level = {};
  var pos = 0, neg = 0;
  stackOrder.forEach(function (f) {
    var v = lastOf(f.data);
    if (v >= 0) { pos += v; level[f.name] = pos; }
    else { neg += v; level[f.name] = neg; }
  });
  level['Total Return'] = lastOf(totalReturn);

  var placed = [];
  var gap = 19.5;
  factors.forEach(function (f) {
    var y = chart.convertToPixel({ yAxisIndex: 0 }, level[f.name]);
    placed.forEach(function (p) {
      if (Math.abs(y - p) < gap) y = p + gap;
    });
    placed.push(y);
    els.push({
      type: 'polygon', z: 30, silent: true,
      shape: { points: [[897, y], [903, y - 7.5], [953, y - 7.5], [953, y + 7.5], [903, y + 7.5]] },
      style: { fill: f.color }
    });
    els.push({
      type: 'text', z: 31, silent: true,
      style: { text: pct(lastValue[f.name]), x: 906, y: y + 0.5, fill: '#111111',
               font: '500 11.5px Inter', align: 'left', verticalAlign: 'middle' }
    });
  });
  return els;
}

chart.setOption({ graphic: { elements: buildGraphics() } });
</script>
</body>
</html>
